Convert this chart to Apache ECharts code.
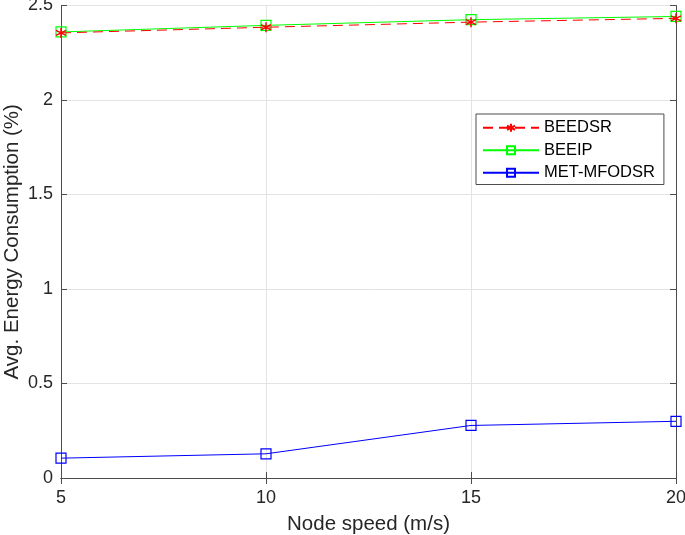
<!DOCTYPE html>
<html><head><meta charset="utf-8">
<script src="https://cdn.jsdelivr.net/npm/echarts@6/dist/echarts.min.js"></script>
<style>html,body{margin:0;padding:0;background:#fff}#c{width:685px;height:535px}</style>
</head><body><div id="c"></div>
<script>
const speeds = [5, 10, 15, 20];
const beedsr = [2.355, 2.385, 2.412, 2.432];
const beeip = [2.36, 2.395, 2.425, 2.442];
const metmfodsr = [0.105, 0.128, 0.278, 0.300];
const xTicks = [5, 10, 15, 20];
const yTicks = [0, 0.5, 1, 1.5, 2, 2.5];

const font = 'Liberation Sans, Arial, sans-serif';
const asterisk = 'path://M0,-1L0,1M-0.87,-0.5L0.87,0.5M-0.87,0.5L0.87,-0.5';
const pair = a => speeds.map((x, i) => [x, a[i]]);
const frame = '#4d4d4d';
const txt = '#262626';

const chart = echarts.init(document.getElementById('c'));
chart.setOption({
  animation: false,
  backgroundColor: '#fff',
  grid: { left: 61, right: 9, top: 5.5, bottom: 57, containLabel: false, outerBoundsMode: 'none' },
  xAxis: [{
    type: 'value', min: 5, max: 20, interval: 5, position: 'bottom',
    name: 'Node speed (m/s)', nameLocation: 'middle', nameGap: 36, nameMoveOverlap: false,
    nameTextStyle: { fontFamily: font, fontSize: 20.5, color: txt },
    axisLine: { lineStyle: { color: frame } },
    axisTick: { inside: true, length: 6, lineStyle: { color: frame } },
    axisLabel: { fontFamily: font, fontSize: 18, color: txt, margin: 11,
      customValues: xTicks },
    splitLine: { show: true, lineStyle: { color: '#e3e3e3' } }
  }, {
    type: 'value', min: 5, max: 20, interval: 5, position: 'top',
    axisLine: { lineStyle: { color: frame } },
    axisTick: { inside: true, length: 6, lineStyle: { color: frame } },
    axisLabel: { show: false }, splitLine: { show: false }
  }],
  yAxis: [{
    type: 'value', min: 0, max: 2.5, interval: 0.5, position: 'left',
    name: 'Avg. Energy Consumption (%)', nameLocation: 'middle', nameGap: 38, nameMoveOverlap: false,
    nameTextStyle: { fontFamily: font, fontSize: 20.5, color: txt },
    axisLine: { show: true, lineStyle: { color: frame } },
    axisTick: { show: true, inside: true, length: 6, lineStyle: { color: frame } },
    axisLabel: { fontFamily: font, fontSize: 18, color: txt, margin: 8,
      customValues: yTicks, formatter: v => String(v) },
    splitLine: { show: true, lineStyle: { color: '#e3e3e3' } }
  }, {
    type: 'value', min: 0, max: 2.5, interval: 0.5, position: 'right',
    axisLine: { show: true, lineStyle: { color: frame } },
    axisTick: { show: true, inside: true, length: 6, lineStyle: { color: frame } },
    axisLabel: { show: false }, splitLine: { show: false }
  }],
  legend: {
    orient: 'vertical', left: 476, top: 114,
    backgroundColor: '#fff', borderColor: frame, borderWidth: 1, borderRadius: 0,
    padding: [5, 9, 3, 6], itemGap: 5, itemWidth: 56, itemHeight: 10,
    textStyle: { fontFamily: font, fontSize: 16.5, color: '#000', lineHeight: 17.5 },
    data: ['BEEDSR', 'BEEIP', 'MET-MFODSR']
  },
  series: [{
    name: 'BEEDSR', type: 'line', data: pair(beedsr),
    symbol: asterisk, symbolSize: 10,
    lineStyle: { color: '#ff0000', width: 1, type: [10, 6] },
    itemStyle: { color: 'rgba(0,0,0,0)', borderColor: '#ff0000', borderWidth: 1.5 },
    z: 3
  }, {
    name: 'BEEIP', type: 'line', data: pair(beeip),
    symbol: 'rect', symbolSize: 10,
    lineStyle: { color: '#00ff00', width: 1 },
    itemStyle: { color: 'rgba(0,0,0,0)', borderColor: '#00ff00', borderWidth: 1.2 },
    z: 2
  }, {
    name: 'MET-MFODSR', type: 'line', data: pair(metmfodsr),
    symbol: 'rect', symbolSize: 10,
    lineStyle: { color: '#0000ff', width: 1 },
    itemStyle: { color: 'rgba(0,0,0,0)', borderColor: '#0000ff', borderWidth: 1.2 }
  }]
});
</script></body></html>
